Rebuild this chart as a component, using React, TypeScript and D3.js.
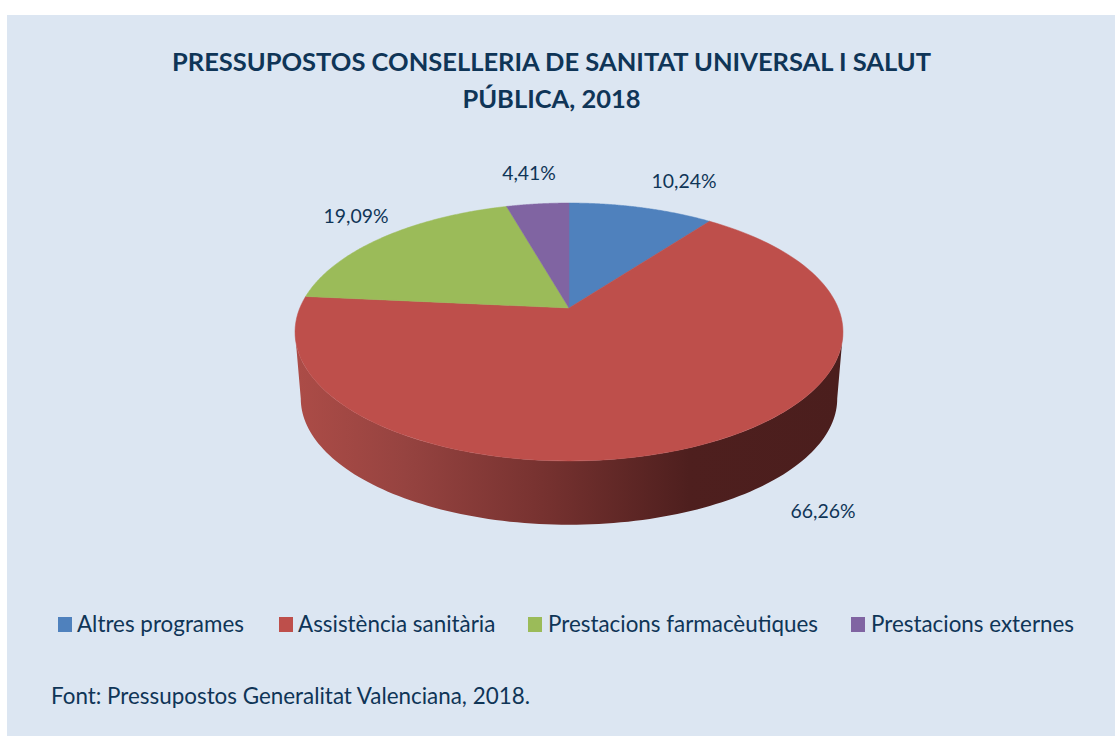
import React from "react";
import * as d3 from "d3";

const categories = ["Altres programes", "Assistència sanitària", "Prestacions farmacèutiques", "Prestacions externes"];
const values = [10.24, 66.26, 19.09, 4.41];
const valueLabels = ["10,24%", "66,26%", "19,09%", "4,41%"];
const colors = ["#4F81BD", "#BE4F4B", "#9BBB59", "#8064A2"];
const titleLines = ["PRESSUPOSTOS CONSELLERIA DE SANITAT UNIVERSAL I SALUT", "PÚBLICA, 2018"];
const sourceText = "Font: Pressupostos Generalitat Valenciana, 2018.";

const labelPos = [[684, 182], [823, 512], [356, 217], [529, 174]];
const legendSwatchX = [58, 279, 528, 851];
const legendTextX = [77, 298, 548, 871];

const FONT = "Lato, Carlito, 'Open Sans', sans-serif";
const TEXT = "#0F3557";
const BG = "#DCE6F2";

const CX = 569, CY = 308, R = 269.2, S = 124.5, K = 0.186, DEPTH = 67;

// perspective projection of a point at angle a (clockwise from top) on the pie's rim
const project = (a: number, dy = 0, shrink = 1): [number, number] => {
  const u = Math.sin(a), v = Math.cos(a);
  const w = 1 + K * v;
  return [CX + (R * shrink * u) / w, CY + dy - (S * shrink * v) / w];
};

const rimAngles = (a0: number, a1: number) => d3.range(0, 121).map((i) => a0 + ((a1 - a0) * i) / 120);

export default function App() {
  const pie = d3.pie<number>().sort(null).startAngle(0).endAngle(2 * Math.PI)(values);
  const line = d3.line();
  // silhouette of the wall: between the widest points of the projected rim
  const widest = Math.acos(-K);
  const upper = rimAngles(widest, 2 * Math.PI - widest).map((a) => project(a));
  const lower = rimAngles(2 * Math.PI - widest, widest).map((a) => project(a, DEPTH, 0.979));

  return (
    <svg width={1115} height={736} style={{ position: "absolute", left: 0, top: 0 }}>
      <defs>
        <linearGradient id="wall" gradientUnits="userSpaceOnUse" x1={296} x2={842} y1={0} y2={0}>
          <stop offset="0" stopColor="#AC4C47" />
          <stop offset="0.2" stopColor="#964340" />
          <stop offset="0.45" stopColor="#773230" />
          <stop offset="0.72" stopColor="#4E1F1E" />
          <stop offset="1" stopColor="#4B1E1D" />
        </linearGradient>
      </defs>
      <rect x={0} y={0} width={1115} height={736} fill="#FFFFFF" />
      <rect x={7} y={15} width={1108} height={721} fill={BG} />
      {titleLines.map((t, i) => (
        <text key={t} x={551.5} y={71 + i * 37} textAnchor="middle" fontFamily={FONT} fontWeight={700} fontSize={25.5} fill={TEXT}>
          {t}
        </text>
      ))}
      <path d={line([...upper, ...lower])! + "Z"} fill="url(#wall)" />
      {pie.map((d, i) => (
        <path
          key={categories[i]}
          d={line([[CX, CY], ...rimAngles(d.startAngle, d.endAngle).map((a) => project(a))])! + "Z"}
          fill={colors[i]}
          stroke={colors[i]}
          strokeWidth={0.5}
        />
      ))}
      {valueLabels.map((t, i) => (
        <text key={t} x={labelPos[i][0]} y={labelPos[i][1] + 6} textAnchor="middle" fontFamily={FONT} fontSize={19.4} fill={TEXT}>
          {t}
        </text>
      ))}
      {categories.map((c, i) => (
        <g key={c}>
          <rect x={legendSwatchX[i]} y={617} width={14} height={15} fill={colors[i]} />
          <text x={legendTextX[i]} y={632} fontFamily={FONT} fontSize={22.4} fill={TEXT}>
            {c}
          </text>
        </g>
      ))}
      <text x={51} y={704} fontFamily={FONT} fontSize={22.4} fill={TEXT}>
        {sourceText}
      </text>
    </svg>
  );
}
